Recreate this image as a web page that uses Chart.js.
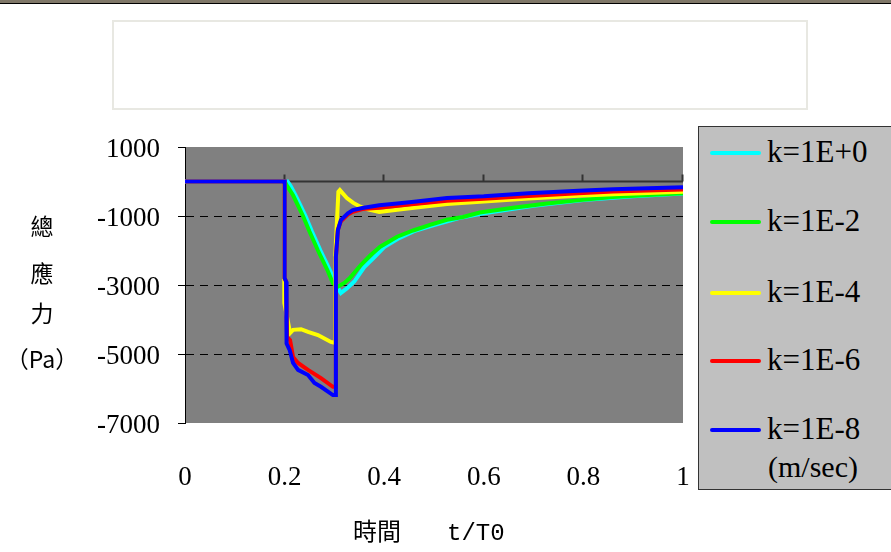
<!DOCTYPE html>
<html>
<head>
<meta charset="utf-8">
<script src="https://cdn.jsdelivr.net/npm/chart.js"></script>
<style>
  html, body { margin: 0; padding: 0; background: #fff; }
  body { position: relative; width: 891px; height: 552px; overflow: hidden; }
  #chart { position: absolute; left: 0; top: 0; }
  .topbar { position: absolute; left: 0; top: 0; width: 891px; height: 3px; background: #7f7768; border-bottom: 1px solid #000; }
  .titlebox { position: absolute; left: 112px; top: 20px; width: 692px; height: 86px; border: 2px solid #e8e8e2; }
  .legend { position: absolute; left: 698px; top: 126px; width: 220px; height: 362px; background: #c0c0c0; border: 1px solid #333; }
  .legend .line { position: absolute; left: 11px; width: 51px; height: 4px; border-radius: 2px; }
  .legend .lab { position: absolute; left: 68px; font: 31px 'Liberation Serif', serif; line-height: 36px; color: #000; }
  .legend .unit { font-size: 30px; left: 69px; }
  .ychar { position: absolute; width: 84px; left: 0; text-align: center; font: 23px 'Noto Sans CJK TC', sans-serif; line-height: 30px; color: #000; }
  .xtitle { position: absolute; left: 353px; top: 514px; font: 24px 'Noto Sans CJK TC', sans-serif; line-height: 32px; color: #000; white-space: pre; }
  .xtitle .mono { font-family: 'Liberation Mono', monospace; margin-left: 46px; }
</style>
</head>
<body>
<div class="topbar"></div>
<div class="titlebox"></div>
<canvas id="chart" width="891" height="552"></canvas>
<div class="ychar" style="top:210px">總</div>
<div class="ychar" style="top:257px">應</div>
<div class="ychar" style="top:297px">力</div>
<div class="ychar" style="top:343px">（Pa）</div>
<div class="legend" id="legend"></div>
<div class="xtitle">時間<span class="mono">t/T0</span></div>
<script>
const xTicks = [0, 0.2, 0.4, 0.6, 0.8, 1]
const yTicks = [1000, -1000, -3000, -5000, -7000]
const seriesNames = ['k=1E+0', 'k=1E-2', 'k=1E-4', 'k=1E-6', 'k=1E-8']
const seriesColors = ['#00ffff', '#00ff00', '#ffff00', '#ff0000', '#0000ff']
const unitLabel = '(m/sec)'

// k=1E+0
const tK0 = [0, 0.206, 0.213, 0.222, 0.232, 0.242, 0.255, 0.272, 0.292, 0.302, 0.313, 0.325, 0.34, 0.36, 0.38, 0.4, 0.43, 0.46, 0.5, 0.55, 0.6, 0.7, 0.8, 0.9, 1]
const vK0 = [0, 0, -150, -400, -700, -1000, -1450, -2000, -2600, -2950, -3230, -3100, -2900, -2480, -2200, -1900, -1640, -1440, -1260, -1060, -920, -700, -540, -430, -350]
// k=1E-2
const tK2 = [0, 0.2, 0.206, 0.217, 0.227, 0.237, 0.25, 0.267, 0.287, 0.297, 0.307, 0.32, 0.331, 0.353, 0.373, 0.392, 0.426, 0.458, 0.492, 0.526, 0.558, 0.592, 0.659, 0.727, 0.793, 0.859, 0.93, 1]
const vK2 = [0, 0, -150, -400, -700, -1000, -1450, -2000, -2600, -2950, -3050, -2940, -2800, -2420, -2130, -1890, -1600, -1420, -1260, -1110, -1030, -900, -760, -640, -540, -450, -390, -340]
// k=1E-4
const tK4 = [0, 0.199, 0.199, 0.2, 0.211, 0.217, 0.233, 0.247, 0.267, 0.293, 0.302, 0.302, 0.308, 0.311, 0.325, 0.338, 0.352, 0.365, 0.39, 0.426, 0.46, 0.526, 0.6, 0.69, 0.79, 0.86, 0.93, 1]
const vK4 = [0, 0, -2860, -3520, -4390, -4300, -4280, -4360, -4450, -4650, -4680, -2100, -300, -250, -480, -620, -730, -800, -880, -820, -760, -650, -580, -490, -410, -370, -330, -300]
// k=1E-6
const tK6 = [0, 0.2, 0.2, 0.203, 0.205, 0.211, 0.217, 0.227, 0.247, 0.273, 0.297, 0.302, 0.303, 0.307, 0.313, 0.327, 0.337, 0.356, 0.39, 0.46, 0.526, 0.6, 0.69, 0.79, 0.86, 0.93, 1]
const vK6 = [0, 0, -2800, -2900, -4500, -4600, -5090, -5260, -5460, -5700, -5950, -5950, -2200, -1400, -1150, -960, -880, -800, -760, -650, -560, -500, -420, -340, -290, -260, -230]
// k=1E-8
const tK8 = [0, 0.2, 0.2, 0.203, 0.204, 0.21, 0.217, 0.227, 0.247, 0.26, 0.273, 0.287, 0.297, 0.302, 0.303, 0.307, 0.313, 0.327, 0.337, 0.356, 0.39, 0.426, 0.46, 0.526, 0.6, 0.69, 0.79, 0.86, 0.93, 1]
const vK8 = [0, 0, -2800, -2900, -4700, -4880, -5260, -5460, -5610, -5840, -5950, -6090, -6190, -6190, -2180, -1410, -1120, -920, -830, -770, -690, -640, -585, -478, -430, -338, -266, -222, -195, -170]

const seriesT = [tK0, tK2, tK4, tK6, tK8]
const seriesV = [vK0, vK2, vK4, vK6, vK8]

const datasets = seriesNames.map((name, i) => ({
  label: name,
  data: seriesT[i].map((t, j) => ({x: t, y: seriesV[i][j]})),
  borderColor: seriesColors[i],
  borderWidth: 4,
  pointRadius: 0,
  tension: 0,
  fill: false,
  order: seriesNames.length - i, // last series on top
}))

const plotBg = {
  id: 'plotBg',
  beforeDraw(chart) {
    const {ctx, chartArea: a} = chart
    ctx.save()
    ctx.fillStyle = '#808080'
    ctx.fillRect(a.left, a.top, a.right - a.left, a.bottom - a.top)
    ctx.restore()
  },
}

// axis line at y = 0 with tick marks pointing up
const zeroAxis = {
  id: 'zeroAxis',
  beforeDatasetsDraw(chart) {
    const {ctx, scales: {x, y}} = chart
    const y0 = y.getPixelForValue(0)
    ctx.save()
    ctx.strokeStyle = '#333'
    ctx.lineWidth = 2
    ctx.beginPath()
    ctx.moveTo(x.getPixelForValue(0), y0)
    ctx.lineTo(x.getPixelForValue(1), y0)
    xTicks.slice(1).forEach((v) => {
      const px = Math.round(x.getPixelForValue(v)) - 0.5
      ctx.moveTo(px, y0)
      ctx.lineTo(px, y0 - 7)
    })
    ctx.stroke()
    ctx.restore()
  },
}

const ctx = document.getElementById('chart').getContext('2d')
// eslint-disable-next-line no-unused-vars
const chart = new Chart(ctx, {
  type: 'line',
  data: {datasets},
  options: {
    responsive: false,
    devicePixelRatio: 1,
    animation: false,
    layout: {padding: {top: 147, right: 208, bottom: 0, left: 0}},
    plugins: {legend: {display: false}, tooltip: {enabled: false}},
    scales: {
      x: {
        type: 'linear',
        min: 0,
        max: 1,
        afterBuildTicks: (s) => { s.ticks = xTicks.map((v) => ({value: v})) },
        afterFit: (s) => { s.height = 129 },
        grid: {display: false},
        border: {display: false},
        ticks: {
          color: '#000',
          font: {family: 'Liberation Serif', size: 27},
          padding: 31,
          maxRotation: 0,
          callback: (v) => String(+v.toFixed(1)),
        },
      },
      y: {
        type: 'linear',
        min: -7000,
        max: 1000,
        afterBuildTicks: (s) => { s.ticks = yTicks.map((v) => ({value: v})) },
        afterFit: (s) => { s.width = 185 },
        border: {display: true, color: '#000', width: 1, dash: [8, 6]},
        grid: {
          color: (c) => (c.tick && (c.tick.value === 1000 || c.tick.value === -7000) ? 'rgba(0,0,0,0)' : '#000'),
          tickColor: '#000',
          tickLength: 7,
          tickBorderDash: [20, 0],
          lineWidth: 1,
        },
        ticks: {
          color: '#000',
          font: {family: 'Liberation Serif', size: 27},
          padding: 18,
          labelOffset: 3,
          callback: (v) => String(v),
        },
      },
    },
  },
  plugins: [plotBg, zeroAxis],
})

// legend box
const legend = document.getElementById('legend')
const rowY = [26, 95, 166, 234, 303]
seriesNames.forEach((name, i) => {
  const line = document.createElement('div')
  line.className = 'line'
  line.style.top = (rowY[i] - 2) + 'px'
  line.style.background = seriesColors[i]
  legend.appendChild(line)
  const lab = document.createElement('div')
  lab.className = 'lab'
  lab.style.top = (rowY[i] - 19) + 'px'
  lab.textContent = name
  legend.appendChild(lab)
})
const unit = document.createElement('div')
unit.className = 'lab unit'
unit.style.top = '322px'
unit.textContent = unitLabel
legend.appendChild(unit)
</script>
</body>
</html>
